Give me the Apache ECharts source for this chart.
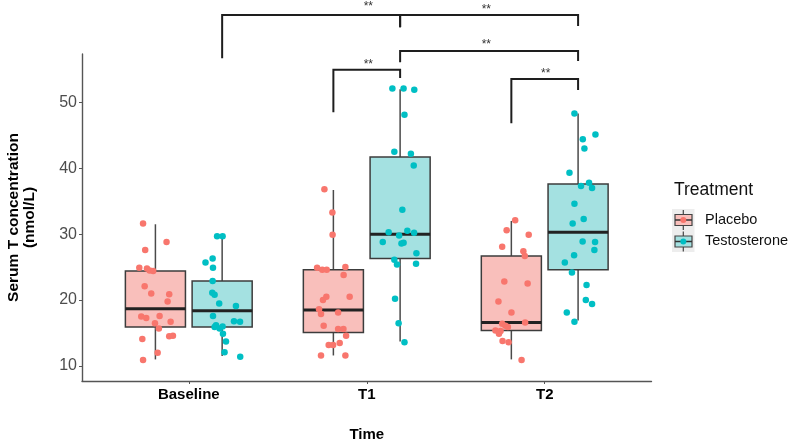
<!DOCTYPE html>
<html>
<head>
<meta charset="utf-8">
<script src="https://cdn.jsdelivr.net/npm/echarts@6/dist/echarts.min.js"></script>
<style>
html,body{margin:0;padding:0;background:#fff;}
#chart{width:790px;height:441px;}
</style>
</head>
<body>
<div id="chart"></div>
<script>
// ---------- data ----------
const categories = ['Baseline', 'T1', 'T2'];
const groups = ['Placebo', 'Testosterone'];
const yTicks = [10, 20, 30, 40, 50];

// box stats per time point: [lowerWhisker, Q1, median, Q3, upperWhisker]
const placeboBoxes = [
  [11.0, 15.9, 18.7, 24.4, 31.5],
  [11.6, 15.1, 18.5, 24.6, 36.7],
  [11.0, 15.4, 16.6, 26.7, 32.0]
];
const testosteroneBoxes = [
  [11.5, 15.9, 18.4, 22.9, 29.7],
  [13.7, 26.3, 30.0, 41.7, 52.0],
  [16.9, 24.6, 30.3, 37.6, 48.3]
];

// jittered observations: [x (jittered category position), value]
const placeboPoints = [
  [0.743,31.6],[0.875,28.8],[0.755,27.6],[0.722,24.9],[0.765,24.8],[0.780,24.5],[0.800,24.4],
  [0.752,22.1],[0.789,21.0],[0.890,20.9],[0.881,19.8],[0.733,17.5],[0.761,17.3],[0.836,17.6],
  [0.810,16.5],[0.898,16.7],[0.832,15.7],[0.739,14.1],[0.890,14.5],[0.911,14.6],[0.825,12.0],
  [0.743,10.9],
  [1.762,36.8],[1.807,33.3],[1.808,29.9],[1.721,24.9],[1.750,24.6],[1.775,24.6],[1.880,25.0],
  [1.870,23.8],[1.773,20.5],[1.754,20.0],[1.904,20.5],[1.732,18.6],[1.743,17.9],[1.839,18.1],
  [1.758,16.1],[1.839,15.6],[1.869,15.6],[1.884,14.6],[1.786,13.2],[1.811,13.2],[1.848,13.5],
  [1.743,11.6],[1.880,11.6],
  [2.834,32.1],[2.786,30.6],[2.910,29.9],[2.761,28.1],[2.880,27.4],[2.888,26.7],[2.773,22.8],
  [2.904,22.5],[2.740,19.8],[2.813,18.1],[2.890,16.6],[2.761,16.4],[2.779,16.1],[2.793,15.9],
  [2.723,15.4],[2.752,15.3],[2.743,14.9],[2.763,13.8],[2.797,13.6],[2.870,10.9]
];
const testosteronePoints = [
  [1.159,29.7],[1.190,29.7],[1.134,26.3],[1.094,25.7],[1.136,24.9],[1.134,22.9],[1.132,21.1],
  [1.145,20.8],[1.171,19.5],[1.265,19.1],[1.136,17.6],[1.254,16.8],[1.288,16.7],[1.153,16.2],
  [1.145,15.9],[1.173,15.7],[1.190,16.0],[1.192,14.9],[1.209,13.7],[1.201,12.1],[1.289,11.4],
  [2.144,52.1],[2.207,52.1],[2.267,51.9],[2.212,48.1],[2.155,42.5],[2.248,42.2],[2.264,40.4],
  [2.200,33.7],[2.123,30.3],[2.182,29.8],[2.228,30.5],[2.266,30.2],[2.090,28.8],[2.195,28.6],
  [2.207,28.7],[2.279,27.1],[2.155,26.1],[2.170,25.4],[2.277,25.5],[2.159,20.2],[2.179,16.5],
  [2.212,13.6],
  [3.167,48.3],[3.285,45.1],[3.214,44.4],[3.223,43.0],[3.139,39.3],[3.249,37.8],[3.204,37.3],
  [3.266,37.0],[3.167,34.6],[3.219,32.3],[3.157,31.6],[3.213,28.9],[3.283,28.8],[3.279,27.6],
  [3.165,26.8],[3.113,25.7],[3.153,24.2],[3.235,22.3],[3.231,20.0],[3.266,19.4],[3.124,18.1],
  [3.167,16.7]
];

// significance brackets: [xLeft, xRight, yBar, yLeftEnd, yRightEnd]
const brackets = [
  [1.1875, 2.1875, 63.24, 56.67, 61.38],
  [2.1875, 3.1875, 63.24, 61.38, 61.57],
  [2.1875, 3.1875, 57.78, 56.07, 56.27],
  [1.8125, 2.1875, 54.94, 48.48, 53.69],
  [2.8125, 3.1875, 53.53, 46.81, 51.87]
];
// significance labels: [x, y, text]
const sigLabels = [
  [2.009, 64.91, '**'],
  [2.672, 64.41, '**'],
  [2.672, 59.19, '**'],
  [2.009, 56.07, '**'],
  [3.006, 54.79, '**']
];

// ---------- styling ----------
const DODGE = 0.1875;
const HALF_BOX = 0.16875;
const pointColors = ['#F8766D', '#00BFC4'];
const boxFills = ['#F9BFBB', '#A4E1E1'];

const boxData = [];
placeboBoxes.forEach((s, i) => boxData.push([i + 1, 0].concat(s)));
testosteroneBoxes.forEach((s, i) => boxData.push([i + 1, 1].concat(s)));

const chart = echarts.init(document.getElementById('chart'), null, {renderer: 'canvas'});

const option = {
  animation: false,
  backgroundColor: '#fff',
  grid: {left: 82, right: 138.5, top: 54, bottom: 60, containLabel: false, outerBoundsMode: 'none'},
  xAxis: {
    type: 'value', min: 0.4, max: 3.6,
    name: 'Time', nameLocation: 'middle', nameGap: 46,
    nameTextStyle: {fontFamily: 'Liberation Sans', fontWeight: 'bold', fontSize: 15, color: '#000'},
    axisLine: {show: true, onZero: false, lineStyle: {color: '#555', width: 1.4}},
    axisTick: {show: true, length: 3, customValues: [1, 2, 3], lineStyle: {color: '#555', width: 1}},
    axisLabel: {
      customValues: [1, 2, 3], margin: 6,
      formatter: v => categories[Math.round(v) - 1] || '',
      fontFamily: 'Liberation Sans', fontWeight: 'bold', fontSize: 15, color: '#000'
    },
    splitLine: {show: false}
  },
  yAxis: {
    type: 'value', min: 7.725, max: 57.33,
    name: 'Serum T concentration\n(nmol/L)', nameLocation: 'middle', nameGap: 44, nameRotate: 90,
    nameTextStyle: {fontFamily: 'Liberation Sans', fontWeight: 'bold', fontSize: 15.5, lineHeight: 16, color: '#000', align: 'center'},
    axisLine: {show: true, onZero: false, lineStyle: {color: '#555', width: 1.4}},
    axisTick: {show: true, length: 3, customValues: yTicks, lineStyle: {color: '#555', width: 1}},
    axisLabel: {customValues: yTicks, margin: 5, fontFamily: 'Liberation Sans', fontSize: 16, color: '#4D4D4D'},
    splitLine: {show: false}
  },
  series: [
    {
      type: 'custom', name: 'boxes', clip: false, z: 2,
      data: boxData,
      renderItem: function (params, api) {
        const cat = api.value(0), grp = api.value(1);
        const xc = cat + (grp === 0 ? -DODGE : DODGE);
        const lo = api.value(2), q1 = api.value(3), med = api.value(4), q3 = api.value(5), hi = api.value(6);
        const tl = api.coord([xc - HALF_BOX, q3]);
        const br = api.coord([xc + HALF_BOX, q1]);
        const cHi = api.coord([xc, hi]);
        const cLo = api.coord([xc, lo]);
        const mL = api.coord([xc - HALF_BOX, med]);
        const mR = api.coord([xc + HALF_BOX, med]);
        const wStyle = {stroke: '#4a4a4a', lineWidth: 1.5};
        return {
          type: 'group',
          children: [
            {type: 'line', shape: {x1: cHi[0], y1: cHi[1], x2: cHi[0], y2: tl[1]}, style: wStyle},
            {type: 'line', shape: {x1: cLo[0], y1: br[1], x2: cLo[0], y2: cLo[1]}, style: wStyle},
            {type: 'rect', shape: {x: tl[0], y: tl[1], width: br[0] - tl[0], height: br[1] - tl[1]},
              style: {fill: boxFills[grp], stroke: '#3c3c3c', lineWidth: 1.5}},
            {type: 'line', shape: {x1: mL[0], y1: mL[1], x2: mR[0], y2: mR[1]},
              style: {stroke: '#222', lineWidth: 3}}
          ]
        };
      }
    },
    {
      type: 'scatter', name: groups[0], data: placeboPoints, symbolSize: 6.5, z: 3,
      itemStyle: {color: pointColors[0], opacity: 1}
    },
    {
      type: 'scatter', name: groups[1], data: testosteronePoints, symbolSize: 6.5, z: 3,
      itemStyle: {color: pointColors[1], opacity: 1}
    },
    {
      type: 'custom', name: 'brackets', clip: false, z: 4,
      data: brackets,
      renderItem: function (params, api) {
        const x1 = api.value(0), x2 = api.value(1), yb = api.value(2), yl = api.value(3), yr = api.value(4);
        const pLb = api.coord([x1, yl]), pLt = api.coord([x1, yb]);
        const pRt = api.coord([x2, yb]), pRb = api.coord([x2, yr]);
        return {
          type: 'polyline',
          shape: {points: [pLb, pLt, pRt, pRb]},
          style: {stroke: '#1e1e1e', lineWidth: 2, fill: null}
        };
      }
    },
    {
      type: 'custom', name: 'sig', clip: false, z: 5,
      data: sigLabels,
      renderItem: function (params, api) {
        const p = api.coord([api.value(0), api.value(1)]);
        return {
          type: 'text',
          style: {
            text: sigLabels[params.dataIndex][2], x: p[0], y: p[1] + 2.5,
            align: 'center', verticalAlign: 'middle',
            fontFamily: 'Liberation Sans', fontSize: 12, fill: '#333'
          }
        };
      }
    }
  ],
  graphic: [
    {type: 'text', left: 674, top: 181, style: {text: 'Treatment', fontFamily: 'Liberation Sans', fontSize: 17.5, fill: '#111'}},
    {type: 'rect', shape: {x: 672, y: 209, width: 22.5, height: 43}, style: {fill: '#EDEDED'}},
    // Placebo key
    {type: 'line', shape: {x1: 683.3, y1: 210, x2: 683.3, y2: 230}, style: {stroke: '#444', lineWidth: 1.2}},
    {type: 'rect', shape: {x: 675, y: 214.5, width: 17, height: 11}, style: {fill: boxFills[0], stroke: '#444', lineWidth: 1.2}},
    {type: 'line', shape: {x1: 675, y1: 220, x2: 692, y2: 220}, style: {stroke: '#333', lineWidth: 1.5}},
    {type: 'circle', shape: {cx: 683.3, cy: 220, r: 3}, style: {fill: pointColors[0]}},
    {type: 'text', left: 705, top: 212, style: {text: 'Placebo', fontFamily: 'Liberation Sans', fontSize: 14.5, fill: '#111'}},
    // Testosterone key
    {type: 'line', shape: {x1: 683.3, y1: 231.5, x2: 683.3, y2: 251.5}, style: {stroke: '#444', lineWidth: 1.2}},
    {type: 'rect', shape: {x: 675, y: 236, width: 17, height: 11}, style: {fill: boxFills[1], stroke: '#444', lineWidth: 1.2}},
    {type: 'line', shape: {x1: 675, y1: 241.5, x2: 692, y2: 241.5}, style: {stroke: '#333', lineWidth: 1.5}},
    {type: 'circle', shape: {cx: 683.3, cy: 241.5, r: 3}, style: {fill: pointColors[1]}},
    {type: 'text', left: 705, top: 233.5, style: {text: 'Testosterone', fontFamily: 'Liberation Sans', fontSize: 14.5, fill: '#111'}}
  ]
};
chart.setOption(option);
</script>
</body>
</html>
